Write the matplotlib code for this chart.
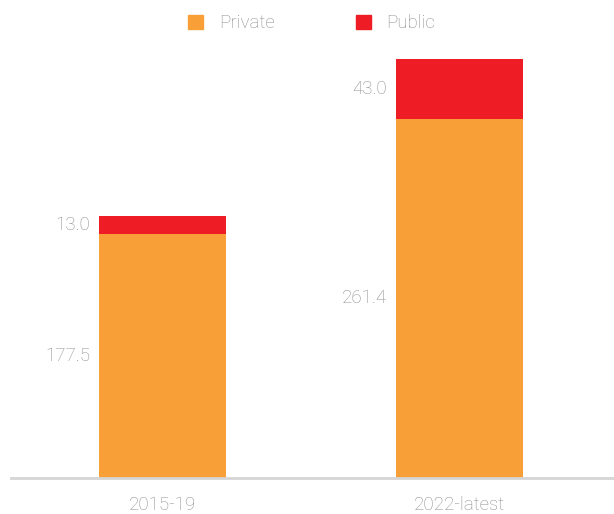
import matplotlib
matplotlib.use("Agg")
import matplotlib.pyplot as plt
from matplotlib.patches import Patch

periods = ["2015-19", "2022-latest"]
private = [177.5, 261.4]
public = [13.0, 43.0]

ORANGE = "#f99f38"
RED = "#ee1c25"
GREY_TEXT = "#8f8f8f"

plt.rcParams["font.family"] = ["Roboto", "DejaVu Sans"]

fig = plt.figure(figsize=(6.14, 5.14), dpi=100)
ax = fig.add_axes([0.018, 0.07, 0.982, 0.93])

x = list(range(len(periods)))
width = 0.428
ax.bar(x, private, width, color=ORANGE, label="Private")
ax.bar(x, public, width, bottom=private, color=RED, label="Public")

# value labels sit to the left of each segment, centred vertically
for xi, p, q in zip(x, private, public):
    lx = xi - width / 2 - 0.03
    ax.text(lx, p / 2, f"{p:.1f}", ha="right", va="center",
            fontsize=13.5, color=GREY_TEXT, fontweight="light")
    ax.text(lx, p + q / 2, f"{q:.1f}", ha="right", va="center",
            fontsize=13.5, color=GREY_TEXT, fontweight="light")

ax.set_xlim(-0.51, 1.52)
ax.set_ylim(0, 347.6)
ax.set_xticks(x)
ax.set_xticklabels(periods, fontsize=13.5, color=GREY_TEXT, fontweight="light")
ax.tick_params(axis="x", length=0, pad=13)
ax.set_yticks([])
for side in ["top", "right", "left"]:
    ax.spines[side].set_visible(False)
ax.spines["bottom"].set_color("#d5d5d5")
ax.spines["bottom"].set_linewidth(2)

handles = [Patch(color=ORANGE, label="Private"), Patch(color=RED, label="Public")]
leg = fig.legend(handles=handles, loc="upper center", bbox_to_anchor=(0.508, 1.005),
                 ncol=2, frameon=False, fontsize=13.5, columnspacing=4.3,
                 handlelength=0.8, handleheight=0.8, handletextpad=0.85)
for t in leg.get_texts():
    t.set_color(GREY_TEXT)
    t.set_fontweight("light")

fig.savefig("out.png", dpi=100)
